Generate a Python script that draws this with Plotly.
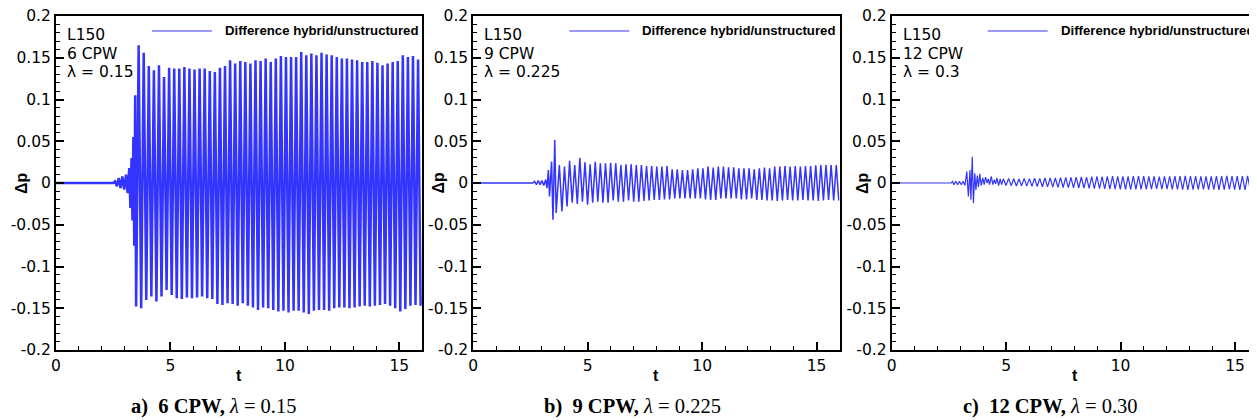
import numpy as np
import plotly.graph_objects as go

# ---------------- data ----------------
x_tick_vals = [0, 5, 10, 15]
x_tick_text = ["0", "5", "10", "15"]
y_tick_vals = [0.2, 0.15, 0.1, 0.05, 0.0, -0.05, -0.1, -0.15, -0.2]
y_tick_text = ["0.2", "0.15", "0.1", "0.05", "0", "-0.05", "-0.1", "-0.15", "-0.2"]

legend_text = "Difference hybrid/unstructured"
box_lines_a = ["L150", "6 CPW", "λ = 0.15"]
box_lines_b = ["L150", "9 CPW", "λ = 0.225"]
box_lines_c = ["L150", "12 CPW", "λ = 0.3"]
captions = [
    "<b>a)</b>\u00a0\u00a0<b>6 CPW,</b> <i>λ</i> = 0.15",
    "<b>b)</b>\u00a0\u00a0<b>9 CPW,</b> <i>λ</i> = 0.225",
    "<b>c)</b>\u00a0\u00a0<b>12 CPW,</b> <i>λ</i> = 0.30",
]

# Panel a: start-up (t, Δp) extrema, then alternating trough/peak values
a_pre_t = [0.0, 2.50, 2.58, 2.66, 2.74, 2.82, 2.90, 2.98, 3.06, 3.13, 3.20, 3.25, 3.30, 3.34, 3.38, 3.42, 3.46]
a_pre_v = [0.0, 0.0, 0.002, -0.004, 0.006, -0.006, 0.008, -0.008, 0.010, -0.012, 0.018, -0.030, 0.030, -0.045, 0.055, -0.075, 0.105]
a_t_first, a_t_last = 3.50, 15.93
a_trough = [-0.148, -0.150, -0.140, -0.136, -0.142, -0.136, -0.128, -0.134, -0.138, -0.139,
            -0.137, -0.138, -0.137, -0.136, -0.138, -0.139, -0.145, -0.146, -0.144, -0.145,
            -0.147, -0.144, -0.147, -0.149, -0.152, -0.149, -0.150, -0.152, -0.154, -0.153,
            -0.155, -0.153, -0.153, -0.155, -0.157, -0.153, -0.152, -0.152, -0.153, -0.150,
            -0.149, -0.149, -0.150, -0.149, -0.148, -0.147, -0.148, -0.147, -0.146, -0.145,
            -0.147, -0.150, -0.154, -0.151, -0.147, -0.146, -0.147]
a_peak = [0.165, 0.156, 0.140, 0.135, 0.141, 0.127, 0.138, 0.137, 0.137, 0.139,
          0.137, 0.136, 0.137, 0.137, 0.134, 0.133, 0.138, 0.140, 0.147, 0.143,
          0.146, 0.145, 0.143, 0.147, 0.146, 0.149, 0.145, 0.149, 0.152, 0.151,
          0.151, 0.151, 0.157, 0.153, 0.155, 0.153, 0.156, 0.154, 0.153, 0.151,
          0.149, 0.149, 0.148, 0.147, 0.145, 0.145, 0.146, 0.144, 0.141, 0.143,
          0.145, 0.146, 0.153, 0.151, 0.152, 0.148]

# Panel b
b_pre_t = [0.0, 2.60, 2.68, 2.76, 2.84, 2.92, 3.00, 3.08, 3.16, 3.22, 3.28, 3.33, 3.42, 3.48, 3.56, 3.62]
b_pre_v = [0.0, 0.0, 0.002, -0.002, 0.003, -0.002, 0.003, -0.003, 0.004, -0.006, 0.0156, -0.016, 0.0256, -0.044, 0.0515, -0.036]
b_t_first, b_t_last = 3.76, 15.97
b_peak = [0.0216, 0.0196, 0.0267, 0.0216, 0.0303, 0.0248, 0.0224, 0.0255, 0.0236, 0.0236,
          0.0243, 0.0236, 0.0216, 0.0224, 0.0224, 0.0216, 0.0216, 0.0204, 0.0204, 0.0196,
          0.0196, 0.0204, 0.0164, 0.0164, 0.0156, 0.0156, 0.0164, 0.0176, 0.0176, 0.0196,
          0.0184, 0.0196, 0.0196, 0.0188, 0.0188, 0.0176, 0.0176, 0.0176, 0.0164, 0.0176,
          0.0184, 0.0176, 0.0196, 0.0196, 0.0204, 0.0196, 0.0204, 0.0196, 0.0204, 0.0204,
          0.0212, 0.0216, 0.0216, 0.0216, 0.0216]
b_trough = [-0.034, -0.028, -0.0236, -0.025, -0.0224, -0.026, -0.0236, -0.0224, -0.0236, -0.0236,
            -0.021, -0.0224, -0.0224, -0.021, -0.0224, -0.0224, -0.0216, -0.021, -0.0204, -0.0204,
            -0.0196, -0.0196, -0.0184, -0.0184, -0.0184, -0.0184, -0.0184, -0.0184, -0.0196, -0.0204,
            -0.0204, -0.0184, -0.0184, -0.0184, -0.0184, -0.0196, -0.0196, -0.0184, -0.0204, -0.0204,
            -0.021, -0.021, -0.0216, -0.021, -0.0204, -0.021, -0.021, -0.0204, -0.021, -0.021,
            -0.0216, -0.021, -0.0204, -0.021, -0.021]

# Panel c
c_pre_t = [0.0, 2.60, 2.66, 2.72, 2.80, 2.88, 2.96, 3.04, 3.12, 3.20, 3.28, 3.35, 3.42, 3.46, 3.52,
           3.57, 3.63, 3.68, 3.74, 3.79, 3.85, 3.91, 3.98, 4.04, 4.10, 4.17, 4.22, 4.28, 4.35,
           4.42, 4.48, 4.54, 4.60, 4.67, 4.74, 4.80]
c_pre_v = [0.0, 0.0, 0.002, -0.002, 0.002, -0.002, 0.002, -0.002, 0.002, -0.003, 0.0136, -0.016, 0.0156, -0.020, 0.0315,
           -0.024, 0.0116, -0.0084, 0.009, -0.005, 0.011, -0.003, 0.006, -0.002, 0.007, 0.000, 0.005, -0.002, 0.008,
           -0.002, 0.004, -0.001, 0.006, -0.003, 0.005, -0.002]
c_t_first, c_t_last = 4.88, 15.89
c_peak = [0.0050, 0.0055, 0.0050, 0.0048, 0.0055, 0.0052, 0.0058, 0.0055, 0.0060, 0.0062,
          0.0060, 0.0065, 0.0068, 0.0066, 0.0070, 0.0072, 0.0070, 0.0075, 0.0078, 0.0076,
          0.0080, 0.0082, 0.0080, 0.0078, 0.0080, 0.0082, 0.0084, 0.0082, 0.0080, 0.0078,
          0.0076, 0.0078, 0.0080, 0.0082, 0.0084, 0.0086, 0.0084, 0.0082, 0.0080, 0.0078,
          0.0080, 0.0082, 0.0084, 0.0086, 0.0084, 0.0082, 0.0084, 0.0086, 0.0084]
c_trough = [-0.0030, -0.0032, -0.0035, -0.0034, -0.0038, -0.0040, -0.0042, -0.0045, -0.0046, -0.0050,
            -0.0052, -0.0054, -0.0056, -0.0058, -0.0060, -0.0062, -0.0064, -0.0066, -0.0068, -0.0070,
            -0.0072, -0.0074, -0.0075, -0.0076, -0.0078, -0.0076, -0.0075, -0.0074, -0.0072, -0.0070,
            -0.0072, -0.0074, -0.0076, -0.0078, -0.0080, -0.0082, -0.0080, -0.0078, -0.0076, -0.0078,
            -0.0080, -0.0082, -0.0080, -0.0078, -0.0080, -0.0082, -0.0084, -0.0082, -0.0080]


def interleave(first, second):
    out = []
    for i in range(max(len(first), len(second))):
        if i < len(first):
            out.append(first[i])
        if i < len(second):
            out.append(second[i])
    return out


def build(pre_t, pre_v, first, second, t0, t1):
    vals = interleave(first, second)
    ts = np.linspace(t0, t1, len(vals))
    return list(pre_t) + list(ts), list(pre_v) + vals


series = [
    build(a_pre_t, a_pre_v, a_trough, a_peak, a_t_first, a_t_last),
    build(b_pre_t, b_pre_v, b_peak, b_trough, b_t_first, b_t_last),
    build(c_pre_t, c_pre_v, c_peak, c_trough, c_t_first, c_t_last),
]
boxes = [box_lines_a, box_lines_b, box_lines_c]

# ---------------- layout (pixels, in window coordinates) ----------------
OFF = 8                      # the page body margin shifts the figure by 8 px
W, H = 1257 - OFF, 420 - OFF
BLUE = "#3434ff"
line_w = [2.5, 1.5, 1.2]
left_px = [56.0, 473.3, 891.7]
span_px = 366.2
top_px, bot_px = 16.0, 350.0
ylab_x = [21, 437.5, 862]
cap_x = [213, 632, 1050]


def px(xw):
    return (xw - OFF) / W


def py(yw):
    return (H - (yw - OFF)) / H


fig = go.Figure()
layout = dict(
    width=W, height=H, margin=dict(l=0, r=0, t=0, b=0, autoexpand=False),
    paper_bgcolor="white", plot_bgcolor="white", showlegend=False,
)
annotations = []
shapes = []
ydom = [py(bot_px), py(top_px)]

for i, (ts, vs) in enumerate(series):
    sfx = "" if i == 0 else str(i + 1)
    x0 = left_px[i]
    x1 = min(x0 + span_px, W + OFF)
    xmax = 16 * (x1 - x0) / span_px
    fig.add_trace(go.Scatter(
        x=ts, y=vs, mode="lines", xaxis="x" + sfx, yaxis="y" + sfx,
        line=dict(color=BLUE, width=line_w[i], simplify=False), hoverinfo="skip",
    ))
    common = dict(
        showline=True, linecolor="black", linewidth=2, mirror=True,
        ticks="inside", tickcolor="black", tickwidth=2, ticklen=8,
        showgrid=False, zeroline=False, tickmode="array", automargin=False,
        ticklabeloverflow="allow",
        tickfont=dict(family="DejaVu Sans", size=15.5, color="black"),
    )
    layout["xaxis" + sfx] = dict(
        common, domain=[px(x0), min(px(x1), 1.0)], range=[0, xmax], anchor="y" + sfx,
        tickvals=x_tick_vals, ticktext=x_tick_text,
        minor=dict(tickmode="linear", tick0=0, dtick=1, ticks="inside", ticklen=4,
                   tickwidth=1, tickcolor="black", showgrid=False),
    )
    layout["yaxis" + sfx] = dict(
        common, domain=ydom, range=[-0.2, 0.2], anchor="x" + sfx,
        tickvals=y_tick_vals, ticktext=y_tick_text,
        minor=dict(tickmode="linear", tick0=0, dtick=0.01, ticks="inside", ticklen=4,
                   tickwidth=1, tickcolor="black", showgrid=False),
    )
    # legend sample line and text
    ly = py(31)
    shapes.append(dict(type="line", xref="paper", yref="paper",
                       x0=px(x0 + 96), x1=px(x0 + 156), y0=ly, y1=ly,
                       line=dict(color=BLUE, width=1)))
    annotations.append(dict(xref="paper", yref="paper", x=px(x0 + 167), y=ly,
                            xanchor="left", yanchor="middle", showarrow=False,
                            text="<b>" + legend_text + "</b>",
                            font=dict(family="Liberation Sans", size=13.2, color="black")))
    # text box lines
    for j, line in enumerate(boxes[i]):
        yy = [35, 53.5, 72][j]
        annotations.append(dict(xref="paper", yref="paper", x=px(x0 + 9), y=py(yy),
                                xanchor="left", yanchor="middle", showarrow=False, text=line,
                                font=dict(family="DejaVu Sans", size=15.5, color="black")))
    # axis titles
    annotations.append(dict(xref="paper", yref="paper", x=px(x0 + span_px / 2), y=py(375),
                            xanchor="center", yanchor="middle", showarrow=False, text="<b>t</b>",
                            font=dict(family="Liberation Sans", size=16, color="black")))
    annotations.append(dict(xref="paper", yref="paper", x=px(ylab_x[i]), y=py(183),
                            xanchor="center", yanchor="middle", showarrow=False, text="<b>Δp</b>",
                            textangle=-90,
                            font=dict(family="Liberation Sans", size=16, color="black")))
    # caption
    annotations.append(dict(xref="paper", yref="paper", x=px(cap_x[i]), y=py(406),
                            xanchor="center", yanchor="middle", showarrow=False, text=captions[i],
                            font=dict(family="Liberation Serif", size=20.5, color="black")))

layout["annotations"] = annotations
layout["shapes"] = shapes
fig.update_layout(**layout)
fig.write_html("out.html")
